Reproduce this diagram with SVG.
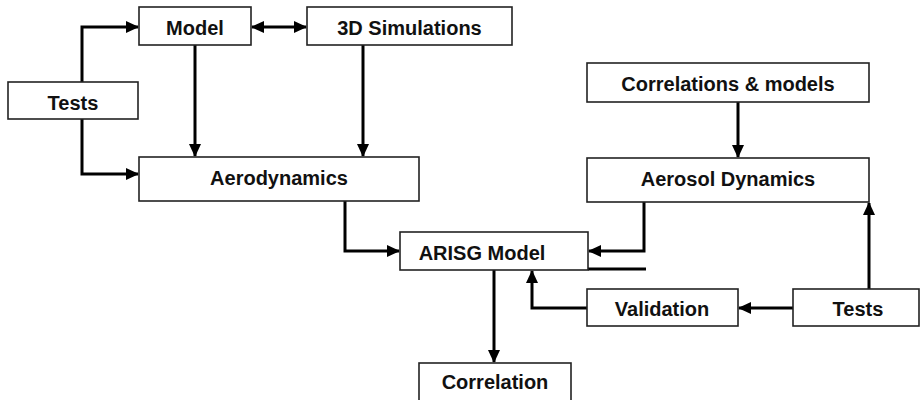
<svg xmlns="http://www.w3.org/2000/svg" width="920" height="400" viewBox="0 0 920 400">
<style>
.box{fill:#fff;stroke:#222;stroke-width:1.6}
.lbl{font-family:"Liberation Sans",Arial,sans-serif;font-weight:bold;font-size:20px;fill:#111;text-anchor:middle}
.con{fill:none;stroke:#000;stroke-width:3}
</style>
<defs>
<marker id="ah" markerUnits="userSpaceOnUse" markerWidth="13" markerHeight="12" refX="12" refY="6" orient="auto-start-reverse">
<path d="M0,0 L13,6 L0,12 z" fill="#000"/>
</marker>
</defs>
<rect width="920" height="400" fill="#fff"/>
<g id="connectors">
<path class="con" d="M82,82 V27 H138" marker-end="url(#ah)"/>
<path class="con" d="M82,119 V174 H138" marker-end="url(#ah)"/>
<path class="con" d="M195,45 V156" marker-end="url(#ah)"/>
<path class="con" d="M363,45 V156" marker-end="url(#ah)"/>
<path class="con" d="M252,27 H306" marker-start="url(#ah)" marker-end="url(#ah)"/>
<path class="con" d="M345,201 V251 H399" marker-end="url(#ah)"/>
<path class="con" d="M644,202 V251 H589" marker-end="url(#ah)"/>
<path class="con" d="M588,269 H646"/>
<path class="con" d="M494,270 V362" marker-end="url(#ah)"/>
<path class="con" d="M587,308 H532 V271" marker-end="url(#ah)"/>
<path class="con" d="M793,308 H739" marker-end="url(#ah)"/>
<path class="con" d="M869,289 V203" marker-end="url(#ah)"/>
<path class="con" d="M738,102 V157" marker-end="url(#ah)"/>
</g>
<g id="tests-left"><rect class="box" x="8" y="82" width="130" height="37"/><text class="lbl" x="73" y="110">Tests</text></g>
<g id="model"><rect class="box" x="139" y="7" width="112" height="38"/><text class="lbl" x="195" y="35">Model</text></g>
<g id="sim3d"><rect class="box" x="307" y="7" width="205" height="38"/><text class="lbl" x="409.5" y="35">3D Simulations</text></g>
<g id="aerodynamics"><rect class="box" x="139" y="157" width="280" height="44"/><text class="lbl" x="279" y="185">Aerodynamics</text></g>
<g id="arisg"><rect class="box" x="400" y="232" width="188" height="38"/><text class="lbl" x="482" y="260">ARISG Model</text></g>
<g id="correlation"><rect class="box" x="419" y="363" width="152" height="38"/><text class="lbl" x="495" y="389">Correlation</text></g>
<g id="corr-models"><rect class="box" x="587" y="63" width="282" height="39"/><text class="lbl" x="728" y="91">Correlations &amp; models</text></g>
<g id="aerosol"><rect class="box" x="587" y="158" width="282" height="44"/><text class="lbl" x="728" y="186">Aerosol Dynamics</text></g>
<g id="validation"><rect class="box" x="587" y="289" width="151" height="37"/><text class="lbl" x="662" y="316">Validation</text></g>
<g id="tests-right"><rect class="box" x="793" y="289" width="126" height="37"/><text class="lbl" x="858" y="316">Tests</text></g>
</svg>
